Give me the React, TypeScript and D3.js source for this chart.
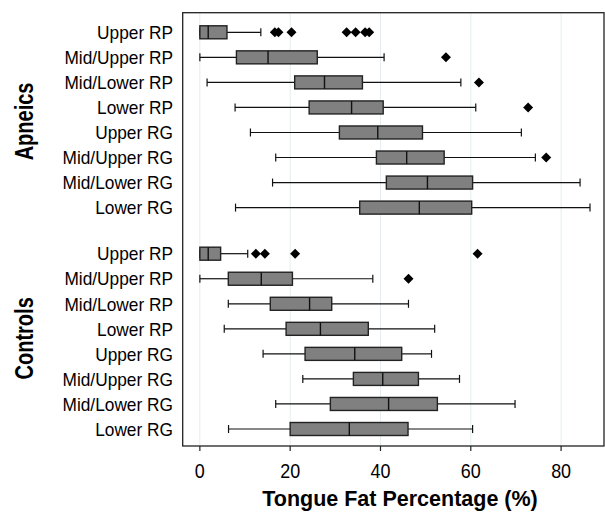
import React from "react";
import * as d3 from "d3";

const regions = ["Upper RP", "Mid/Upper RP", "Mid/Lower RP", "Lower RP", "Upper RG", "Mid/Upper RG", "Mid/Lower RG", "Lower RG"];
const groups = ["Apneics", "Controls"];

const apneicsMin = [0, 0, 1.6, 7.8, 11.2, 16.8, 16.1, 7.9];
const apneicsQ1 = [0, 8.1, 21.0, 24.2, 30.9, 39.1, 41.3, 35.4];
const apneicsMedian = [1.85, 15.1, 27.6, 33.6, 39.4, 45.8, 50.4, 48.6];
const apneicsQ3 = [6.0, 26.0, 36.0, 40.6, 49.3, 54.1, 60.4, 60.2];
const apneicsMax = [13.5, 40.8, 57.8, 61.1, 71.2, 74.3, 84.2, 86.4];
const apneicsOutliers = [[16.6, 17.4, 20.3, 32.5, 34.5, 36.6, 37.5], [54.5], [61.8], [72.7], [], [76.7], [], []];

const controlsMin = [0, 0, 6.3, 5.4, 14.0, 22.8, 16.8, 6.35];
const controlsQ1 = [0, 6.3, 15.6, 19.1, 23.3, 34.0, 28.9, 20.0];
const controlsMedian = [1.85, 13.6, 24.3, 26.7, 34.3, 40.5, 41.8, 33.1];
const controlsQ3 = [4.6, 20.5, 29.2, 37.3, 44.7, 48.4, 52.6, 46.1];
const controlsMax = [10.6, 38.3, 46.2, 52.0, 51.3, 57.5, 69.8, 60.4];
const controlsOutliers = [[12.4, 14.4, 21.1, 61.5], [46.2], [], [], [], [], [], []];

const xTicks = [0, 20, 40, 60, 80];

const W = 605;
const H = 512;
const plot = { left: 182.7, right: 604, top: 12.7, bottom: 446 };
const FONT = "'Liberation Sans', Arial, sans-serif";
const GROUP_OFFSET = 8.84;

type Row = { group: string; region: string; slot: number; min: number; q1: number; med: number; q3: number; max: number; out: number[] };

const rows: Row[] = [];
const sets = [
  [apneicsMin, apneicsQ1, apneicsMedian, apneicsQ3, apneicsMax, apneicsOutliers],
  [controlsMin, controlsQ1, controlsMedian, controlsQ3, controlsMax, controlsOutliers],
] as const;
groups.forEach((g, gi) => {
  const [mn, q1, md, q3, mx, ot] = sets[gi] as any;
  regions.forEach((r, ri) => {
    rows.push({ group: g, region: r, slot: gi * GROUP_OFFSET + ri, min: mn[ri], q1: q1[ri], med: md[ri], q3: q3[ri], max: mx[ri], out: ot[ri] });
  });
});

export default function App() {
  const x = d3.scaleLinear().domain([-3.8, 89.5]).range([plot.left, plot.right]);
  const y = d3.scaleLinear().domain([0, GROUP_OFFSET + 7]).range([32.3, 429]);
  const boxH = 13;
  const capH = 8;
  const dS = 5;
  const diamond = (cx: number, cy: number) => `M${cx},${cy - dS}L${cx + dS},${cy}L${cx},${cy + dS}L${cx - dS},${cy}Z`;

  const groupCenters = groups.map((g, gi) => (y(gi * GROUP_OFFSET) + y(gi * GROUP_OFFSET + 7)) / 2 + (gi === 0 ? 1.5 : -3));

  return (
    <svg width={W} height={H} style={{ position: "absolute", left: 0, top: 0, background: "#fff" }} fontFamily={FONT}>
      {xTicks.map((t) => (
        <line key={"g" + t} x1={x(t)} x2={x(t)} y1={plot.top} y2={plot.bottom} stroke="#e4edef" strokeWidth={1} />
      ))}
      {rows.map((r, i) => {
        const cy = y(r.slot);
        return (
          <g key={i}>
            <line x1={x(r.min)} x2={x(r.q1)} y1={cy} y2={cy} stroke="#111" strokeWidth={1.2} />
            <line x1={x(r.q3)} x2={x(r.max)} y1={cy} y2={cy} stroke="#111" strokeWidth={1.2} />
            <line x1={x(r.min)} x2={x(r.min)} y1={cy - capH / 2} y2={cy + capH / 2} stroke="#111" strokeWidth={1.2} />
            <line x1={x(r.max)} x2={x(r.max)} y1={cy - capH / 2} y2={cy + capH / 2} stroke="#111" strokeWidth={1.2} />
            <rect x={x(r.q1)} y={cy - boxH / 2} width={x(r.q3) - x(r.q1)} height={boxH} fill="#808080" stroke="#222" strokeWidth={1.4} />
            <line x1={x(r.med)} x2={x(r.med)} y1={cy - boxH / 2} y2={cy + boxH / 2} stroke="#111" strokeWidth={1.4} />
            {r.out.map((o, j) => (
              <path key={j} d={diamond(x(o), cy)} fill="#000" />
            ))}
            <text transform={`translate(173,${cy}) scale(1,1.08)`} dy="0.36em" textAnchor="end" fontSize={17.3} fill="#000">
              {r.region}
            </text>
          </g>
        );
      })}
      <rect x={plot.left} y={plot.top} width={plot.right - plot.left} height={plot.bottom - plot.top} fill="none" stroke="#222" strokeWidth={1.3} />
      {xTicks.map((t) => (
        <g key={"t" + t}>
          <line x1={x(t)} x2={x(t)} y1={plot.bottom} y2={plot.bottom + 5} stroke="#222" strokeWidth={1.2} />
          <text transform={`translate(${x(t)},477.5) scale(0.92,1.08)`} textAnchor="middle" fontSize={19.5} fill="#000">
            {t}
          </text>
        </g>
      ))}
      <text x={400} y={506} textAnchor="middle" fontSize={21.5} fontWeight="bold" fill="#000">
        Tongue Fat Percentage (%)
      </text>
      {groups.map((g, gi) => (
        <text key={g} transform={`translate(32.5,${groupCenters[gi]}) rotate(-90) scale(0.8,1)`} textAnchor="middle" fontSize={25} fontWeight="bold" fill="#000">
          {g}
        </text>
      ))}
    </svg>
  );
}
